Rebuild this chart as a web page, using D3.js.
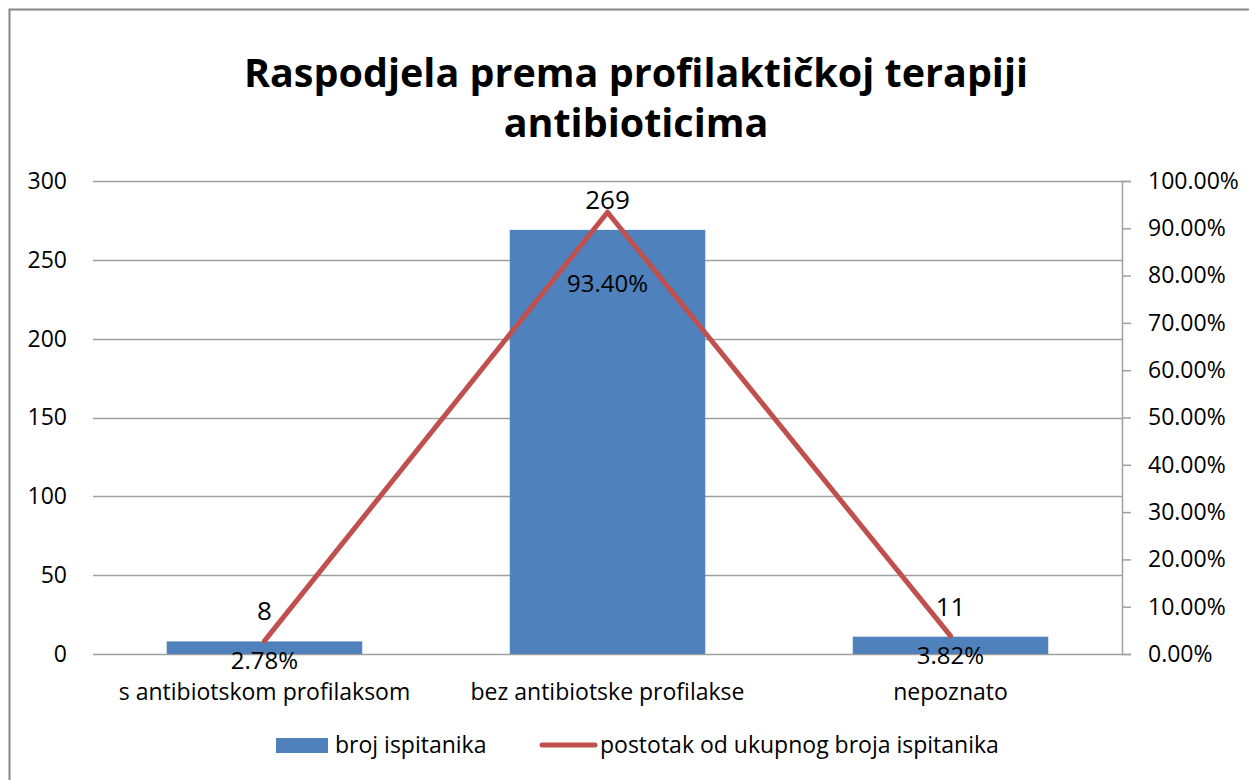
<!DOCTYPE html>
<html>
<head>
<meta charset="utf-8">
<script src="https://cdn.jsdelivr.net/npm/d3@7"></script>
<style>
  body { margin: 0; background: #fff; }
  text { font-family: "Open Sans", "Noto Sans", sans-serif; fill: #000; }
</style>
</head>
<body>
<div id="chart"></div>
<script>
// data
var categories = ["s antibiotskom profilaksom", "bez antibiotske profilakse", "nepoznato"];
var counts = [8, 269, 11];
var percents = [0.0278, 0.934, 0.0382];
var leftTicks = [0, 50, 100, 150, 200, 250, 300];
var rightTicks = [0, 0.1, 0.2, 0.3, 0.4, 0.5, 0.6, 0.7, 0.8, 0.9, 1.0];
var titleLines = ["Raspodjela prema profilaktičkoj terapiji", "antibioticima"];
var seriesNames = ["broj ispitanika", "postotak od ukupnog broja ispitanika"];

var W = 1249, H = 780;
var margin = { top: 181, right: 127, bottom: 126, left: 93 },
    width = W - margin.left - margin.right,
    height = H - margin.top - margin.bottom;

var blue = "#4F81BD", red = "#C0504D", grid = "#a0a0a0";
var fontFam = "'Open Sans', 'Noto Sans', sans-serif";

var svg = d3.select("#chart").append("svg")
    .attr("width", W)
    .attr("height", H);

// outer chart border (cut off at right / bottom)
svg.append("rect")
    .attr("x", 9.5).attr("y", 9.5)
    .attr("width", W + 20).attr("height", H + 20)
    .attr("fill", "none")
    .attr("stroke", "#868686")
    .attr("stroke-width", 2);

// title
svg.append("g").selectAll("text")
    .data(titleLines)
    .enter().append("text")
    .attr("x", 636)
    .attr("y", function(d, i) { return 87 + i * 50; })
    .attr("text-anchor", "middle")
    .style("font-size", "39.5px")
    .style("font-weight", "bold")
    .text(function(d) { return d; });

var g = svg.append("g")
    .attr("transform", "translate(" + margin.left + "," + margin.top + ")");

var x = d3.scaleBand()
    .domain(categories)
    .range([0, width]);

var y = d3.scaleLinear().domain([0, 300]).range([height, 0]);
var y2 = d3.scaleLinear().domain([0, 1]).range([height, 0]);

// gridlines
g.append("g").selectAll("line")
    .data(leftTicks)
    .enter().append("line")
    .attr("x1", 0).attr("x2", width)
    .attr("y1", function(d) { return Math.round(y(d)) + 0.5; })
    .attr("y2", function(d) { return Math.round(y(d)) + 0.5; })
    .attr("stroke", grid)
    .attr("stroke-width", 1.5);

// left axis labels
var yAxis = g.append("g")
    .call(d3.axisLeft(y).tickValues(leftTicks).tickSize(0).tickPadding(26));
yAxis.select(".domain").remove();
yAxis.selectAll("text").style("font-size", "23px").style("font-family", fontFam);

// right axis
var yAxis2 = g.append("g")
    .attr("transform", "translate(" + width + ",0)")
    .call(d3.axisRight(y2).tickValues(rightTicks).tickSize(9).tickPadding(17)
        .tickFormat(d3.format(".2%")));
yAxis2.select(".domain").attr("stroke", grid).attr("stroke-width", 1.5);
yAxis2.selectAll(".tick line").attr("stroke", grid).attr("stroke-width", 1.5);
yAxis2.selectAll("text").style("font-size", "23px").style("font-family", fontFam);

// bars
var barW = x.bandwidth() * 0.57;
g.selectAll(".bar")
    .data(categories)
    .enter().append("rect")
    .attr("class", "bar")
    .attr("x", function(d) { return x(d) + (x.bandwidth() - barW) / 2; })
    .attr("y", function(d, i) { return y(counts[i]); })
    .attr("width", barW)
    .attr("height", function(d, i) { return height - y(counts[i]); })
    .attr("fill", blue);

// bar value labels
g.selectAll(".blabel")
    .data(categories)
    .enter().append("text")
    .attr("class", "blabel")
    .attr("x", function(d) { return x(d) + x.bandwidth() / 2; })
    .attr("y", function(d, i) { return y(counts[i]) - 21; })
    .attr("text-anchor", "middle")
    .style("font-size", "26px")
    .text(function(d, i) { return counts[i]; });

// line
var line = d3.line()
    .x(function(d, i) { return x(categories[i]) + x.bandwidth() / 2; })
    .y(function(d) { return y2(d); });

g.append("path")
    .datum(percents)
    .attr("d", line)
    .attr("fill", "none")
    .attr("stroke", red)
    .attr("stroke-width", 5)
    .attr("stroke-linejoin", "round")
    .attr("stroke-linecap", "round");

// percent labels (middle one pushed down below the bar label)
g.selectAll(".plabel")
    .data(percents)
    .enter().append("text")
    .attr("class", "plabel")
    .attr("x", function(d, i) { return x(categories[i]) + x.bandwidth() / 2; })
    .attr("y", function(d, i) { return i == 1 ? y2(d) + 80 : y2(d) + 28; })
    .attr("text-anchor", "middle")
    .style("font-size", "24px")
    .text(function(d) { return d3.format(".2%")(d); });

// category labels
g.selectAll(".clabel")
    .data(categories)
    .enter().append("text")
    .attr("class", "clabel")
    .attr("x", function(d) { return x(d) + x.bandwidth() / 2; })
    .attr("y", height + 46)
    .attr("text-anchor", "middle")
    .style("font-size", "23px")
    .text(function(d) { return d; });

// legend
var leg = svg.append("g");
leg.append("rect")
    .attr("x", 276).attr("y", 738)
    .attr("width", 52).attr("height", 15)
    .attr("fill", blue);
leg.append("text")
    .attr("x", 335).attr("y", 753)
    .style("font-size", "23px")
    .text(seriesNames[0]);
leg.append("line")
    .attr("x1", 542).attr("x2", 595)
    .attr("y1", 745).attr("y2", 745)
    .attr("stroke", red)
    .attr("stroke-width", 5)
    .attr("stroke-linecap", "round");
leg.append("text")
    .attr("x", 600).attr("y", 753)
    .style("font-size", "23px")
    .text(seriesNames[1]);
</script>
</body>
</html>
